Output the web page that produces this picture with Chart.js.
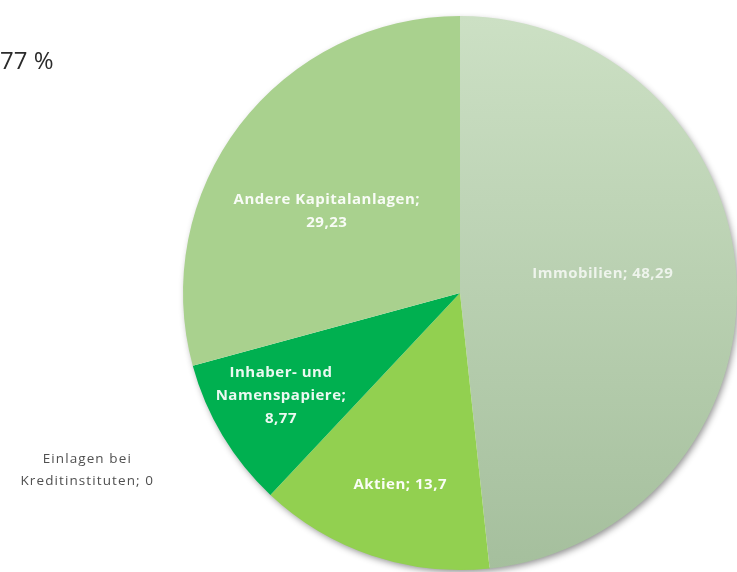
<!DOCTYPE html>
<html>
<head>
<meta charset="utf-8">
<script src="https://cdn.jsdelivr.net/npm/chart.js@4"></script>
<style>
  html, body { margin: 0; padding: 0; background: #ffffff; }
  #wrap { width: 737px; height: 572px; }
</style>
</head>
<body>
<div id="wrap"><canvas id="pieChart" width="737" height="572"></canvas></div>
<script>
// Kapitalanlagen (Anteil in %)
const categories = ['Immobilien', 'Aktien', 'Inhaber- und Namenspapiere', 'Einlagen bei Kreditinstituten', 'Andere Kapitalanlagen'];
const shares = [48.29, 13.7, 8.77, 0, 29.23];
const sliceColors = ['#c3d8ba', '#92d050', '#00b050', '#7f7f7f', '#a9d18e'];
const headText = '77 %';

// where each label sits: fraction of radius + small angle nudge (deg), max line width
const labelPlace = [
    { r: 0.52, shift: -4.5, maxWidth: 280, color: 'rgba(255,255,255,0.75)', inside: true },
    { r: 0.725, shift: -1.2, maxWidth: 220, color: 'rgba(255,255,255,0.95)', inside: true },
    { r: 0.745, shift: 1.2, maxWidth: 160, color: 'rgba(255,255,255,0.92)', inside: true },
    { r: 1.49, shift: -10.2, maxWidth: 185, color: '#505050', inside: false },
    { r: 0.565, shift: -5.7, maxWidth: 215, color: 'rgba(255,255,255,0.92)', inside: true }
];

function fmt(v) {
    return String(v).replace('.', ',');
}

function wrapText(ctx, text, maxWidth) {
    const words = text.split(' ');
    const lines = [];
    let line = '';
    words.forEach(w => {
        const test = line ? line + ' ' + w : w;
        if (line && ctx.measureText(test).width > maxWidth) {
            lines.push(line);
            line = w;
        } else {
            line = test;
        }
    });
    if (line) lines.push(line);
    return lines;
}

// soft shadow under the pie
const pieShadow = {
    id: 'pieShadow',
    beforeDatasetsDraw(chart) {
        const arc = chart.getDatasetMeta(0).data[0];
        if (!arc) return;
        const ctx = chart.ctx;
        ctx.save();
        ctx.shadowColor = 'rgba(0,0,0,0.45)';
        ctx.shadowBlur = 7;
        ctx.shadowOffsetX = 2;
        ctx.shadowOffsetY = 3;
        ctx.fillStyle = '#ffffff';
        ctx.beginPath();
        ctx.arc(arc.x, arc.y, arc.outerRadius - 1, 0, Math.PI * 2);
        ctx.fill();
        ctx.restore();
    }
};

// data labels like the Excel chart
const sliceLabels = {
    id: 'sliceLabels',
    afterDatasetsDraw(chart) {
        const ctx = chart.ctx;
        const meta = chart.getDatasetMeta(0);
        meta.data.forEach((arc, i) => {
            const p = labelPlace[i];
            const mid = (arc.startAngle + arc.endAngle) / 2 + p.shift * Math.PI / 180;
            const x = arc.x + Math.cos(mid) * arc.outerRadius * p.r;
            const y = arc.y + Math.sin(mid) * arc.outerRadius * p.r;
            ctx.save();
            if (p.inside) {
                ctx.font = 'bold 15px "Open Sans", sans-serif';
                ctx.letterSpacing = '0.5px';
            } else {
                ctx.font = '13.5px "Open Sans", sans-serif';
                ctx.letterSpacing = '1.1px';
            }
            ctx.fillStyle = p.color;
            ctx.textAlign = 'center';
            ctx.textBaseline = 'middle';
            const lines = wrapText(ctx, categories[i] + '; ' + fmt(shares[i]), p.maxWidth);
            const lh = p.inside ? 23 : 22;
            lines.forEach((ln, k) => {
                ctx.fillText(ln, x, y + (k - (lines.length - 1) / 2) * lh);
            });
            ctx.restore();
        });
        // cut-off text at the top left
        ctx.save();
        ctx.font = '24px "Open Sans", sans-serif';
        ctx.fillStyle = '#2b2b2b';
        ctx.textAlign = 'left';
        ctx.textBaseline = 'alphabetic';
        ctx.fillText(headText, 0, 69);
        ctx.restore();
    }
};

const pieCtx = document.getElementById('pieChart').getContext('2d');
const pieChart = new Chart(pieCtx, {
    type: 'pie',
    data: {
        labels: categories,
        datasets: [{
            data: shares,
            backgroundColor: (c) => {
                if (c.dataIndex !== 0) return sliceColors[c.dataIndex];
                const area = c.chart.chartArea;
                if (!area) return sliceColors[0];
                const g = c.chart.ctx.createLinearGradient(0, area.top, 0, area.bottom);
                g.addColorStop(0, '#cce0c4');
                g.addColorStop(1, '#a5bf9d');
                return g;
            },
            borderWidth: 0,
            hoverOffset: 0,
            offset: 0
        }]
    },
    options: {
        responsive: false,
        animation: false,
        events: [],
        layout: {
            padding: { left: 183, right: 0, top: 16, bottom: 2 }
        },
        plugins: {
            legend: { display: false },
            tooltip: { enabled: false },
            title: { display: false }
        }
    },
    plugins: [pieShadow, sliceLabels]
});
</script>
</body>
</html>
